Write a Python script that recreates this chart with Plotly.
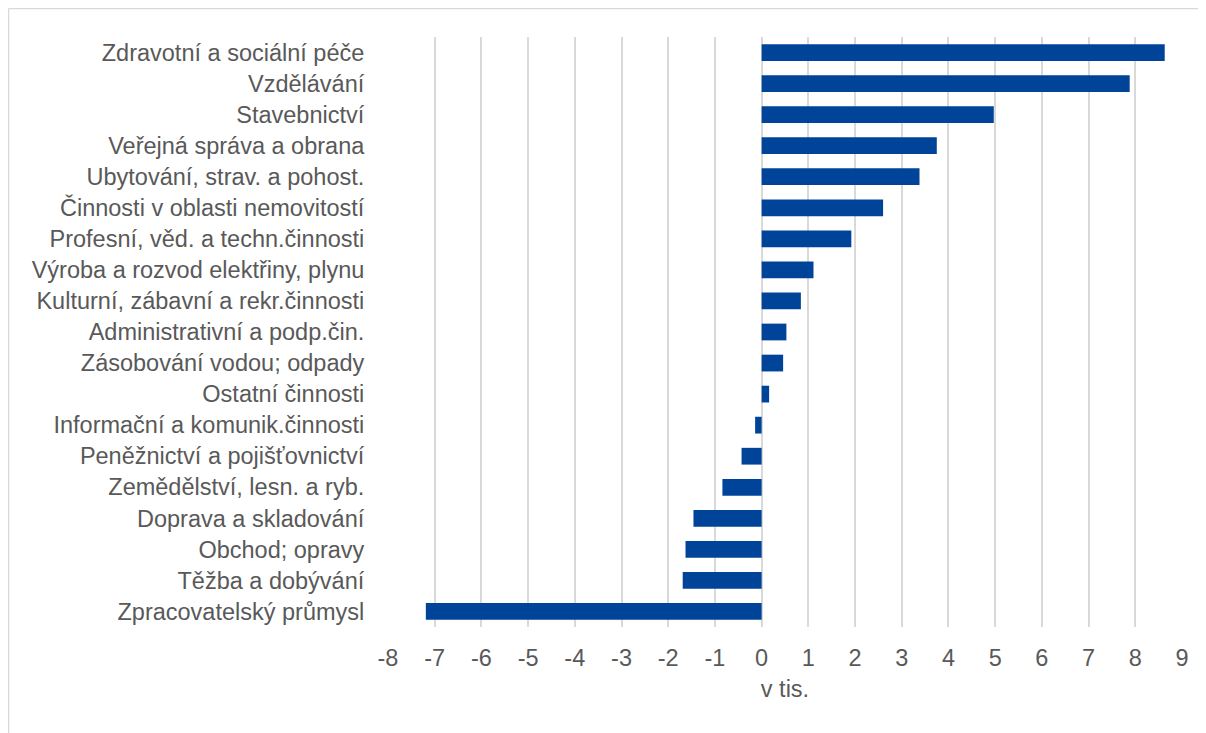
import plotly.graph_objects as go

categories = [
    "Zdravotní a sociální péče",
    "Vzdělávání",
    "Stavebnictví",
    "Veřejná správa a obrana",
    "Ubytování, strav. a pohost.",
    "Činnosti v oblasti nemovitostí",
    "Profesní, věd. a techn.činnosti",
    "Výroba a rozvod elektřiny, plynu",
    "Kulturní, zábavní a rekr.činnosti",
    "Administrativní a podp.čin.",
    "Zásobování vodou; odpady",
    "Ostatní činnosti",
    "Informační a komunik.činnosti",
    "Peněžnictví a pojišťovnictví",
    "Zemědělství, lesn. a ryb.",
    "Doprava a skladování",
    "Obchod; opravy",
    "Těžba a dobývání",
    "Zpracovatelský průmysl",
]
values = [8.63, 7.88, 4.97, 3.75, 3.38, 2.60, 1.92, 1.11, 0.84, 0.53, 0.46, 0.16,
          -0.14, -0.43, -0.84, -1.46, -1.63, -1.69, -7.19]
x_ticks = list(range(-8, 10))
x_title = "v tis."

TEXT = "#595959"
FONT = "Liberation Sans, Arial, sans-serif"
FS = 23.5

W, H = 1198, 725
ML, MR, MT, MB = 380, 24, 29, 106
PW, PH = W - ML - MR, H - MT - MB

fig = go.Figure(go.Bar(
    x=values, y=categories, orientation="h",
    marker=dict(color="#00449a", line=dict(width=0)),
))

bx = (0.5 - ML) / PW
by = 1 + (MT - 0.5) / PH

fig.update_layout(
    width=W, height=H,
    margin=dict(l=ML, r=MR, t=MT, b=MB),
    paper_bgcolor="white", plot_bgcolor="white",
    bargap=0.46,
    showlegend=False,
    font=dict(family=FONT, size=FS, color=TEXT),
    xaxis=dict(
        range=[-8, 9], tickvals=x_ticks, ticktext=[str(v) for v in x_ticks],
        showgrid=True, gridcolor="#d9d9d9", gridwidth=1.5,
        zeroline=False, showline=False,
        ticks="outside", ticklen=10, tickcolor="rgba(0,0,0,0)",
        tickfont=dict(size=FS, color=TEXT, family=FONT),
        title=dict(text=x_title, font=dict(size=FS, color=TEXT, family=FONT), standoff=10),
    ),
    yaxis=dict(
        autorange="reversed", showgrid=False, zeroline=False, showline=False,
        ticks="outside", ticklen=18, tickcolor="rgba(0,0,0,0)",
        tickfont=dict(size=FS, color=TEXT, family=FONT),
    ),
    shapes=[
        dict(type="line", xref="paper", yref="paper",
             x0=bx, x1=1.1, y0=by, y1=by,
             line=dict(color="#d9d9d9", width=1.5)),
        dict(type="line", xref="paper", yref="paper",
             x0=bx, x1=bx, y0=by, y1=-0.3,
             line=dict(color="#d9d9d9", width=1.5)),
    ],
)

fig.write_html("out.html")
